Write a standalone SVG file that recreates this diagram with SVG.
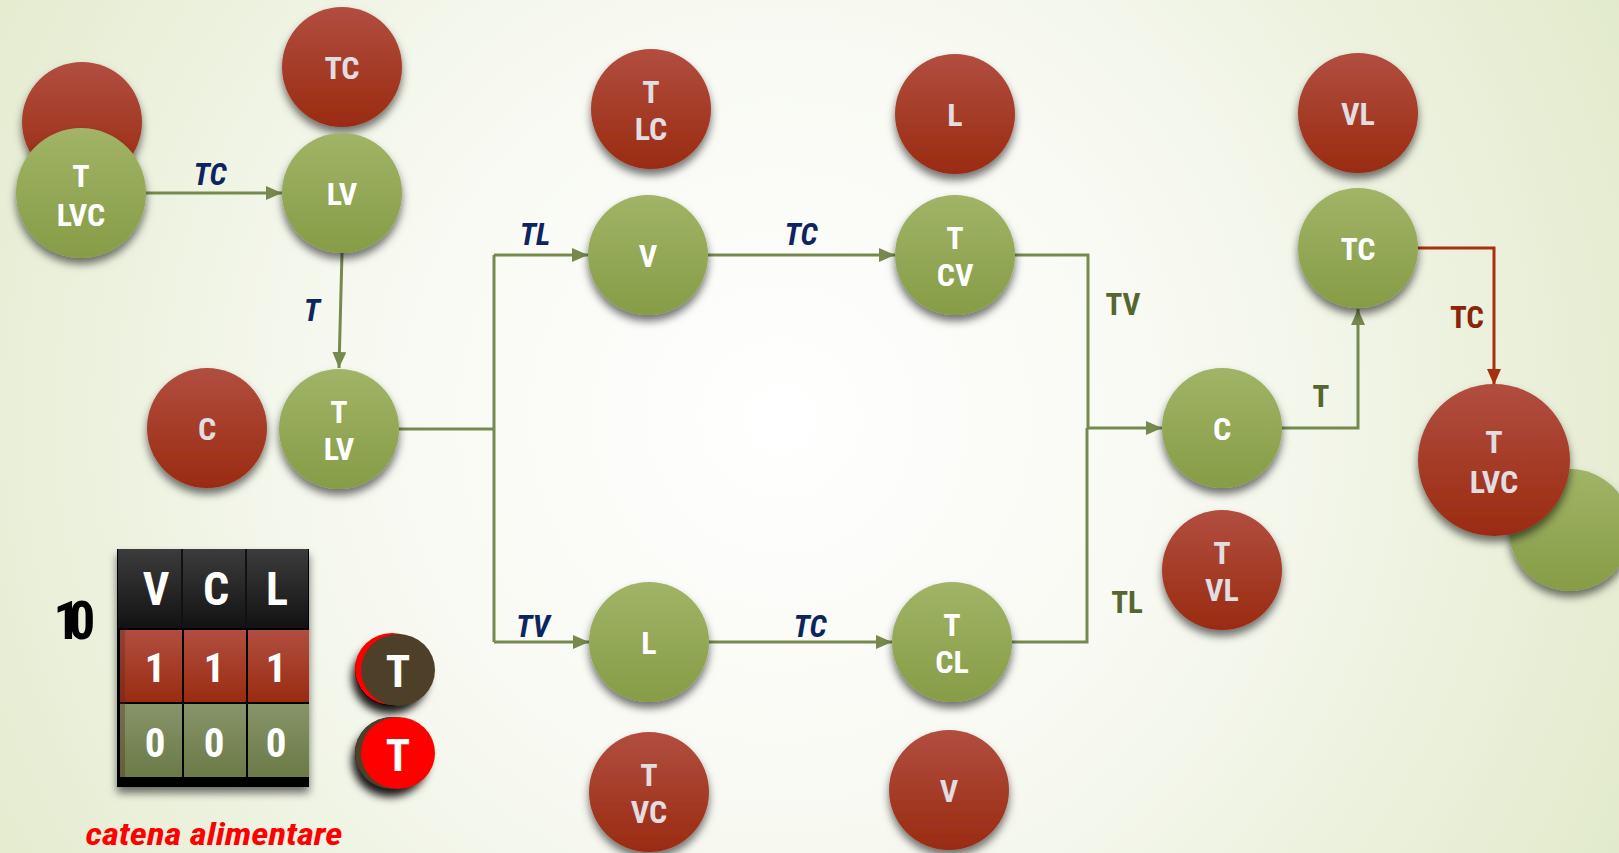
<svg xmlns="http://www.w3.org/2000/svg" width="1619" height="853" viewBox="0 0 1619 853">
<defs>
<radialGradient id="bg" gradientUnits="userSpaceOnUse" cx="780" cy="420" r="950">
<stop offset="0" stop-color="#ffffff"/><stop offset="0.45" stop-color="#f7f9f1"/><stop offset="1" stop-color="#e2eacb"/>
</radialGradient>
<linearGradient id="gGreen" x1="0" y1="0" x2="0" y2="1"><stop offset="0" stop-color="#a1b467"/><stop offset="1" stop-color="#869c46"/></linearGradient>
<linearGradient id="gRed" x1="0" y1="0" x2="0" y2="1"><stop offset="0" stop-color="#b14e40"/><stop offset="1" stop-color="#9a2b11"/></linearGradient>
<linearGradient id="gBlack" x1="0" y1="0" x2="0" y2="1"><stop offset="0" stop-color="#3c3c3c"/><stop offset="1" stop-color="#121212"/></linearGradient>
<linearGradient id="gRow0" x1="0" y1="0" x2="0" y2="1"><stop offset="0" stop-color="#879469"/><stop offset="1" stop-color="#6b7a47"/></linearGradient>
<filter id="sh" x="-30%" y="-30%" width="160%" height="170%"><feDropShadow dx="0" dy="6" stdDeviation="4" flood-color="#000" flood-opacity="0.55"/></filter>
<filter id="shT" x="-40%" y="-40%" width="180%" height="190%"><feDropShadow dx="-3" dy="8" stdDeviation="4" flood-color="#000" flood-opacity="0.9"/></filter>
<marker id="ag" viewBox="0 0 16 14" refX="16" refY="7" markerWidth="16" markerHeight="14" markerUnits="userSpaceOnUse" orient="auto"><path d="M0,0 L16,7 L0,14 Z" fill="#76894f"/></marker>
<marker id="ar" viewBox="0 0 16 14" refX="16" refY="7" markerWidth="16" markerHeight="14" markerUnits="userSpaceOnUse" orient="auto"><path d="M0,0 L16,7 L0,14 Z" fill="#a8300f"/></marker>
<style>
.n text{font-family:"Liberation Sans Narrow","Roboto Condensed","DejaVu Sans Condensed","Liberation Sans",sans-serif;font-weight:bold;font-size:32px;text-anchor:middle}
.g circle{fill:url(#gGreen);filter:url(#sh)}
.g text{fill:#ffffff}
.r circle{fill:url(#gRed);filter:url(#sh)}
.r text{fill:#e2dde0}
.c path{fill:none;stroke:#76894f;stroke-width:3}
.c path.red{stroke:#a8300f}
.lb{font-family:"Liberation Sans Narrow","Roboto Condensed","DejaVu Sans Condensed","Liberation Sans",sans-serif;font-weight:bold;font-size:31px;text-anchor:middle}
.nv{fill:#0c2460;font-style:italic}
.ol{fill:#55672f}
.dr{fill:#8a2508}
.tb{font-family:"Liberation Sans Narrow","Roboto Condensed","DejaVu Sans Condensed","Liberation Sans",sans-serif;font-weight:bold;text-anchor:middle;fill:#ffffff}
</style>
</defs>
<rect width="1619" height="853" fill="url(#bg)"/>

<g id="connectors" class="c">
<path d="M146,193 H282" marker-end="url(#ag)"/>
<path d="M342,253 L339,368" marker-end="url(#ag)"/>
<path d="M399,429 H494"/>
<path d="M494,255 V642"/>
<path d="M494,255 H588" marker-end="url(#ag)"/>
<path d="M494,642 H589" marker-end="url(#ag)"/>
<path d="M708,255 H895" marker-end="url(#ag)"/>
<path d="M709,642 H892" marker-end="url(#ag)"/>
<path d="M1015,255 H1088 V428"/>
<path d="M1012,642 H1087 V428"/>
<path d="M1087,428 H1162" marker-end="url(#ag)"/>
<path d="M1282,428 H1358 V309" marker-end="url(#ag)"/>
<path class="red" d="M1418,248 H1494 V385" marker-end="url(#ar)"/>
</g>

<g id="edge-labels" class="lb">
<text class="nv" x="210" y="185">TC</text>
<text class="nv" x="312" y="321">T</text>
<text class="nv" x="535" y="245">TL</text>
<text class="nv" x="801" y="245">TC</text>
<text class="nv" x="533" y="637">TV</text>
<text class="nv" x="810" y="637">TC</text>
<text class="ol" x="1123" y="315">TV</text>
<text class="ol" x="1127" y="613">TL</text>
<text class="ol" x="1321" y="407">T</text>
<text class="dr" x="1467" y="328">TC</text>
</g>

<g id="n-red-behind-start" class="n r"><circle cx="82" cy="122" r="60"/></g>
<g id="n-start" class="n g"><circle cx="81" cy="193" r="65"/><text x="81" y="187">T</text><text x="81" y="226">LVC</text></g>
<g id="n-tc1" class="n r"><circle cx="342" cy="67" r="60"/><text x="342" y="79">TC</text></g>
<g id="n-lv" class="n g"><circle cx="342" cy="193" r="60"/><text x="342" y="205">LV</text></g>
<g id="n-c1" class="n r"><circle cx="207" cy="428" r="60"/><text x="207" y="440">C</text></g>
<g id="n-tlv" class="n g"><circle cx="339" cy="429" r="60"/><text x="339" y="423">T</text><text x="339" y="460">LV</text></g>
<g id="n-tlc" class="n r"><circle cx="651" cy="109" r="60"/><text x="651" y="103">T</text><text x="651" y="140">LC</text></g>
<g id="n-v" class="n g"><circle cx="648" cy="255" r="60"/><text x="648" y="267">V</text></g>
<g id="n-l1" class="n r"><circle cx="955" cy="114" r="60"/><text x="955" y="126">L</text></g>
<g id="n-tcv" class="n g"><circle cx="955" cy="255" r="60"/><text x="955" y="249">T</text><text x="955" y="286">CV</text></g>
<g id="n-l" class="n g"><circle cx="649" cy="642" r="60"/><text x="649" y="654">L</text></g>
<g id="n-tvc" class="n r"><circle cx="649" cy="792" r="60"/><text x="649" y="786">T</text><text x="649" y="823">VC</text></g>
<g id="n-tcl" class="n g"><circle cx="952" cy="642" r="60"/><text x="952" y="636">T</text><text x="952" y="673">CL</text></g>
<g id="n-v2" class="n r"><circle cx="949" cy="790" r="60"/><text x="949" y="802">V</text></g>
<g id="n-c" class="n g"><circle cx="1222" cy="428" r="60"/><text x="1222" y="440">C</text></g>
<g id="n-tvl" class="n r"><circle cx="1222" cy="570" r="60"/><text x="1222" y="564">T</text><text x="1222" y="601">VL</text></g>
<g id="n-vl" class="n r"><circle cx="1358" cy="113" r="60"/><text x="1358" y="125">VL</text></g>
<g id="n-tc" class="n g"><circle cx="1358" cy="248" r="60"/><text x="1358" y="260">TC</text></g>
<g id="n-green-behind-end" class="n g"><circle cx="1570" cy="530" r="61"/></g>
<g id="n-end" class="n r"><circle cx="1494" cy="460" r="76"/><text x="1494" y="453">T</text><text x="1494" y="493">LVC</text></g>

<g id="table">
<rect x="117" y="549" width="192" height="238" fill="#000" filter="url(#sh)"/>
<rect x="118" y="549" width="190" height="79" fill="url(#gBlack)"/>
<line x1="182" y1="549" x2="182" y2="628" stroke="#111" stroke-width="2"/>
<line x1="246" y1="549" x2="246" y2="628" stroke="#111" stroke-width="2"/>
<rect x="120" y="630" width="62" height="72" fill="url(#gRed)"/>
<rect x="184" y="630" width="62" height="72" fill="url(#gRed)"/>
<rect x="248" y="630" width="61" height="72" fill="url(#gRed)"/>
<rect x="120" y="704" width="62" height="73" fill="url(#gRow0)"/>
<rect x="184" y="704" width="62" height="73" fill="url(#gRow0)"/>
<rect x="248" y="704" width="61" height="73" fill="url(#gRow0)"/>
<rect x="120" y="630" width="5" height="147" fill="#5a2a1a" opacity="0.35"/>
<g class="tb" font-size="46"><text x="156" y="605">V</text><text x="216" y="605">C</text><text x="277" y="605">L</text></g>
<g class="tb" font-size="41"><text x="155" y="682">1</text><text x="214" y="682">1</text><text x="276" y="682">1</text><text x="155" y="757">0</text><text x="214" y="757">0</text><text x="276" y="757">0</text></g>
</g>

<g id="counter" class="tb" font-size="53" style="fill:#000">
<text x="82" y="639">0</text><text x="67" y="639">1</text>
</g>

<g id="token-1">
<ellipse cx="393" cy="670" rx="38" ry="36" fill="#000" filter="url(#shT)"/>
<ellipse cx="392" cy="669" rx="37" ry="36" fill="#ff0000"/>
<ellipse cx="398" cy="670" rx="37" ry="36" fill="#4e3f28"/>
<text class="tb" x="398" y="687" font-size="45">T</text>
</g>
<g id="token-2">
<ellipse cx="393" cy="753" rx="38" ry="36" fill="#000" filter="url(#shT)"/>
<ellipse cx="392" cy="753" rx="37" ry="36" fill="#4e3f28"/>
<ellipse cx="398" cy="753" rx="37" ry="36" fill="#ff0000"/>
<text class="tb" x="398" y="771" font-size="45">T</text>
</g>

<text id="caption" x="214" y="845" font-family="Liberation Sans Narrow,Roboto Condensed,DejaVu Sans Condensed,Liberation Sans,sans-serif" font-weight="bold" font-style="italic" font-size="32" fill="#ff0000" text-anchor="middle" textLength="257" lengthAdjust="spacingAndGlyphs">catena alimentare</text>
</svg>
